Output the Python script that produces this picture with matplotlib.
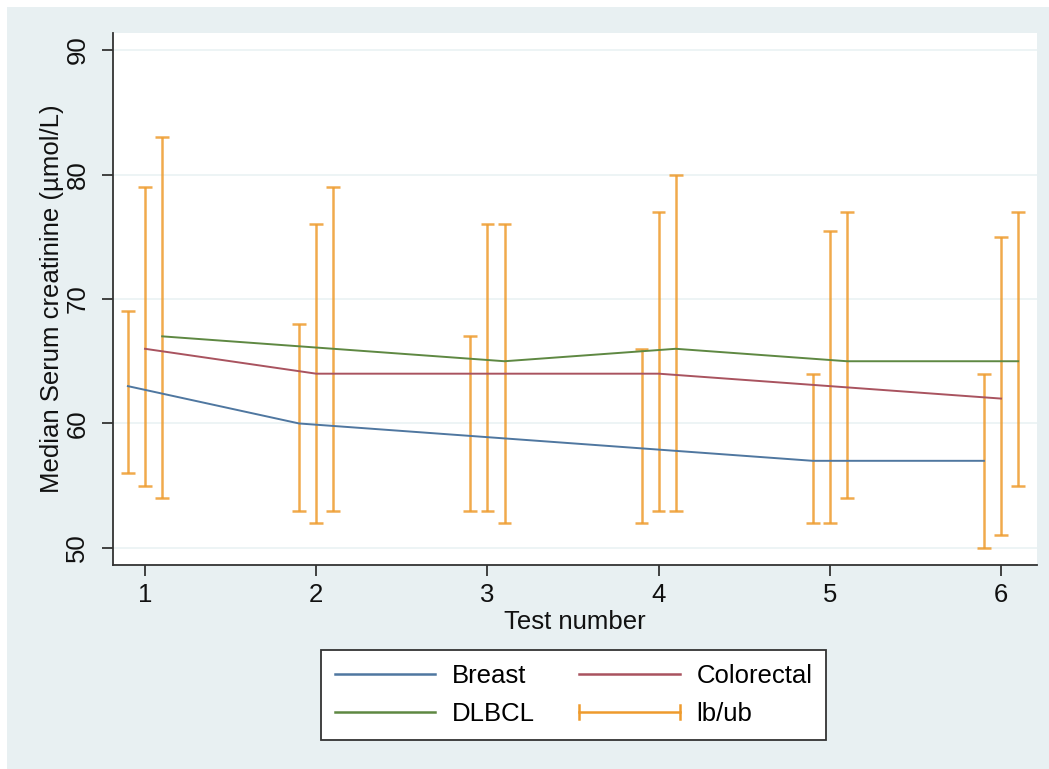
import numpy as np
import matplotlib.pyplot as plt
from matplotlib.patches import Rectangle
from matplotlib.lines import Line2D
from matplotlib.legend_handler import HandlerBase

plt.rcParams["font.family"] = ["Liberation Sans", "DejaVu Sans"]

# median serum creatinine per test, with lower / upper bounds
tests = [1, 2, 3, 4, 5, 6]
breast = [63, 60, 59, 58, 57, 57]
breast_lb = [56, 53, 53, 52, 52, 50]
breast_ub = [69, 68, 67, 66, 64, 64]
colorectal = [66, 64, 64, 64, 63, 62]
colorectal_lb = [55, 52, 53, 53, 52, 51]
colorectal_ub = [79, 76, 76, 77, 75.5, 75]
dlbcl = [67, 66, 65, 66, 65, 65]
dlbcl_lb = [54, 53, 52, 53, 54, 55]
dlbcl_ub = [83, 79, 76, 80, 77, 77]

bg = "#E8F0F2"
c_breast = "#4F77A0"
c_colo = "#A9535F"
c_dlbcl = "#5E8842"
c_bound = "#EE9B2D"
fs = 18.5


class CappedLineHandler(HandlerBase):
    # legend key: horizontal line with a small vertical cap at both ends
    def create_artists(self, legend, orig_handle, xdescent, ydescent,
                       width, height, fontsize, trans):
        x0, x1 = -xdescent, -xdescent + width
        yc = -ydescent + height / 2
        cap = 5
        col = orig_handle.get_color()
        lw = orig_handle.get_linewidth()
        arts = [
            Line2D([x0, x1], [yc, yc], color=col, lw=lw),
            Line2D([x0, x0], [yc - cap, yc + cap], color=col, lw=lw),
            Line2D([x1, x1], [yc - cap, yc + cap], color=col, lw=lw),
        ]
        for a in arts:
            a.set_transform(trans)
        return arts


fig = plt.figure(figsize=(10.49, 7.69), dpi=100)
fig.patch.set_facecolor("white")
fig.patches.append(Rectangle((7 / 1049, 0), 1, 1 - 7 / 769, transform=fig.transFigure,
                             facecolor=bg, edgecolor="none", zorder=-10))

ax = fig.add_axes([113 / 1049, 1 - 565 / 769, (1037 - 113) / 1049, (565 - 33) / 769])
ax.set_facecolor("white")

x = np.array(tests, dtype=float)
groups = [
    ("Breast", breast, breast_lb, breast_ub, c_breast, -0.1),
    ("Colorectal", colorectal, colorectal_lb, colorectal_ub, c_colo, 0.0),
    ("DLBCL", dlbcl, dlbcl_lb, dlbcl_ub, c_dlbcl, 0.1),
]
for name, med, lb, ub, col, off in groups:
    ax.plot(x + off, med, color=col, lw=1.4, zorder=3)
for name, med, lb, ub, col, off in groups:
    ax.vlines(x + off, lb, ub, color=c_bound, lw=1.8, alpha=0.85, zorder=2)
    ax.hlines(lb, x + off - 0.04, x + off + 0.04, color=c_bound, lw=1.8, alpha=0.85, zorder=2)
    ax.hlines(ub, x + off - 0.04, x + off + 0.04, color=c_bound, lw=1.8, alpha=0.85, zorder=2)

ax.set_xlim(0.813, 6.21)
ax.set_ylim(48.63, 91.37)
ax.set_xticks(tests)
ax.set_yticks([50, 60, 70, 80, 90])
ax.grid(axis="y", color="#EAF2F3", lw=1.2, zorder=0)
ax.set_axisbelow(True)

for s in ["top", "right"]:
    ax.spines[s].set_visible(False)
for s in ["left", "bottom"]:
    ax.spines[s].set_color("#333333")
    ax.spines[s].set_linewidth(1.3)

ax.tick_params(axis="both", direction="out", length=8, width=1.3, color="#333333",
               labelsize=fs, labelcolor="#111111")
ax.tick_params(axis="y", pad=9)
ax.tick_params(axis="x", pad=5)
for lab in ax.get_yticklabels():
    lab.set_rotation(90)
    lab.set_va("center")
ax.set_ylabel("Median Serum creatinine (µmol/L)", fontsize=fs, color="#111111", labelpad=1)
ax.set_xlabel("Test number", fontsize=fs, color="#111111", labelpad=2)

h_breast = Line2D([], [], color=c_breast, lw=1.8)
h_colo = Line2D([], [], color=c_colo, lw=1.8)
h_dlbcl = Line2D([], [], color=c_dlbcl, lw=1.8)
h_bound = Line2D([], [], color=c_bound, lw=1.8)
# column-major order so rows read Breast/Colorectal, DLBCL/lb-ub
leg = fig.legend([h_breast, h_dlbcl, h_colo, h_bound],
                 ["Breast", "DLBCL", "Colorectal", "lb/ub"], ncol=2,
                 loc="center", bbox_to_anchor=(573.5 / 1049, 1 - 695 / 769),
                 fontsize=fs, frameon=True, fancybox=False, edgecolor="#333333",
                 framealpha=1, handlelength=3.9, columnspacing=1.75, borderpad=0.54,
                 labelspacing=0.53, handletextpad=0.65,
                 handler_map={h_bound: CappedLineHandler()})
leg.get_frame().set_linewidth(1.3)
leg.get_frame().set_facecolor("white")

fig.savefig("out.png", dpi=100, facecolor=fig.get_facecolor())
